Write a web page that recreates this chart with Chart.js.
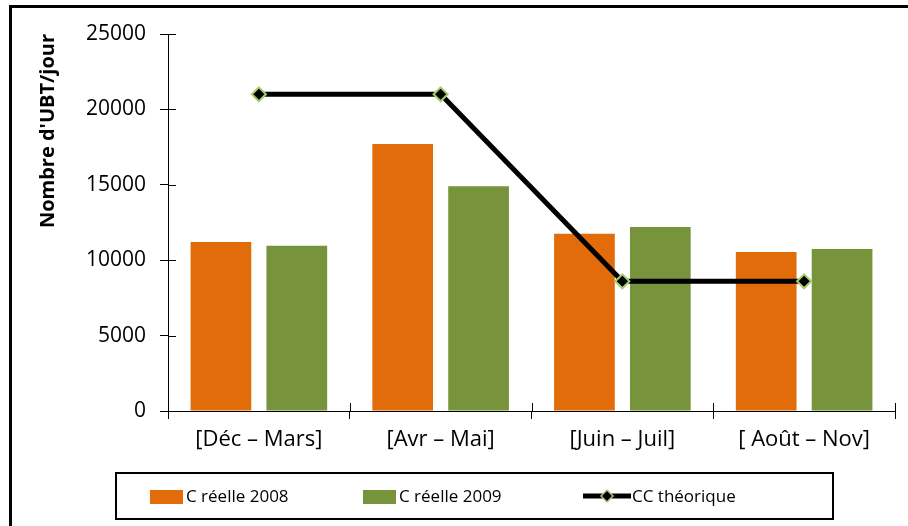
<!DOCTYPE html>
<html>
<head>
<meta charset="utf-8">
<script src="https://cdn.jsdelivr.net/npm/chart.js@4"></script>
<style>
  html, body { margin: 0; padding: 0; background: #fff; }
  #wrap { position: relative; width: 908px; height: 526px; overflow: hidden; font-family: "Open Sans", sans-serif; }
  #frame { position: absolute; left: 9px; top: 5px; width: 920px; height: 540px; border-left: 3px solid #000; border-top: 3px solid #000; }
  #legend { position: absolute; left: 115px; top: 472px; width: 715px; height: 44px; border: 2px solid #000; }
  .sw { position: absolute; top: 16px; width: 33px; height: 14px; }
  .lbl { position: absolute; top: 10px; font-size: 17px; line-height: 24px; color: #000; white-space: nowrap; }
  canvas { position: absolute; left: 0; top: 0; }
</style>
</head>
<body>
<div id="wrap">
  <canvas id="chart" width="908" height="526"></canvas>
  <div id="frame"></div>
  <div id="legend"></div>
</div>
<script>
const categories = ['[Déc – Mars]', '[Avr – Mai]', '[Juin – Juil]', '[ Août – Nov]'];
const reelle2008 = [11200, 17700, 11750, 10550];
const reelle2009 = [10950, 14900, 12200, 10750];
const ccTheorique = [21000, 21000, 8600, 8600];
const seriesNames = ['C réelle 2008', 'C réelle 2009', 'CC théorique'];
const yTicks = [0, 5000, 10000, 15000, 20000, 25000];

const ORANGE = '#e36c0a';
const GREEN = '#77933c';
const DIAMOND_EDGE = '#a8cc6c';

// Excel-style tick marks that cross the axis line
const crossTicks = {
  id: 'crossTicks',
  afterDraw(chart) {
    const { ctx, scales: { x, y }, chartArea } = chart;
    ctx.save();
    ctx.strokeStyle = '#000';
    ctx.lineWidth = 1;
    ctx.beginPath();
    yTicks.forEach(v => {
      const py = Math.round(y.getPixelForValue(v)) + 0.5;
      ctx.moveTo(chartArea.left, py);
      ctx.lineTo(chartArea.left + 8, py);
    });
    for (let i = 0; i <= categories.length; i++) {
      const px = Math.round(x.getPixelForValue(i - 0.5)) + 0.5;
      ctx.moveTo(px, chartArea.bottom - 8);
      ctx.lineTo(px, chartArea.bottom);
    }
    ctx.stroke();
    ctx.restore();
  }
};

new Chart(document.getElementById('chart'), {
  data: {
    labels: categories,
    datasets: [
      {
        type: 'line',
        label: seriesNames[2],
        data: ccTheorique,
        borderColor: '#000',
        borderWidth: 5,
        pointStyle: 'rectRot',
        pointRadius: 7,
        pointBackgroundColor: '#000',
        pointBorderColor: DIAMOND_EDGE,
        pointBorderWidth: 2,
        tension: 0,
        order: 0
      },
      {
        type: 'bar',
        label: seriesNames[0],
        data: reelle2008,
        backgroundColor: ORANGE,
        categoryPercentage: 0.835,
        barPercentage: 0.8,
        order: 1
      },
      {
        type: 'bar',
        label: seriesNames[1],
        data: reelle2009,
        backgroundColor: GREEN,
        categoryPercentage: 0.835,
        barPercentage: 0.8,
        order: 1
      }
    ]
  },
  options: {
    responsive: false,
    animation: false,
    layout: { padding: { top: 34, right: 13, left: 0, bottom: 0 } },
    plugins: { legend: { display: false }, tooltip: { enabled: false } },
    scales: {
      x: {
        afterFit: s => { s.height = 115; },
        grid: { drawOnChartArea: false, tickLength: 8, color: '#000', offset: true },
        border: { color: '#000', width: 1 },
        ticks: { color: '#000', padding: 8, font: { family: 'Open Sans', size: 22 } }
      },
      y: {
        min: 0,
        max: 25000,
        afterFit: s => { s.width = 168; },
        afterBuildTicks: s => { s.ticks = yTicks.map(v => ({ value: v })); },
        grid: { drawOnChartArea: false, tickLength: 8, color: '#000' },
        border: { color: '#000', width: 1 },
        ticks: { color: '#000', padding: 14, font: { family: 'Open Sans', size: 21 }, callback: v => String(v) },
        title: {
          display: true,
          text: "Nombre d'UBT/jour",
          align: 'end',
          color: '#000',
          padding: { top: 36, bottom: 0 },
          font: { family: 'Open Sans', size: 20, weight: 'bold' }
        }
      }
    }
  },
  plugins: [crossTicks]
});

// legend box, Excel style
const legend = document.getElementById('legend');
const items = [
  { sw: 33, text: seriesNames[0], color: ORANGE, kind: 'bar' },
  { sw: 246, text: seriesNames[1], color: GREEN, kind: 'bar' },
  { sw: 466, text: seriesNames[2], kind: 'line' }
];
items.forEach(it => {
  if (it.kind === 'bar') {
    const s = document.createElement('div');
    s.className = 'sw';
    s.style.left = it.sw + 'px';
    s.style.background = it.color;
    legend.appendChild(s);
    const t = document.createElement('span');
    t.className = 'lbl';
    t.style.left = (it.sw + 36) + 'px';
    t.textContent = it.text;
    legend.appendChild(t);
  } else {
    const ns = 'http://www.w3.org/2000/svg';
    const svg = document.createElementNS(ns, 'svg');
    svg.setAttribute('width', '48');
    svg.setAttribute('height', '20');
    svg.style.position = 'absolute';
    svg.style.left = it.sw + 'px';
    svg.style.top = '12px';
    svg.innerHTML = '<line x1="0" y1="10" x2="48" y2="10" stroke="#000" stroke-width="5"/>' +
      '<polygon points="24,4 30,10 24,16 18,10" fill="#000" stroke="' + DIAMOND_EDGE + '" stroke-width="1.5"/>';
    legend.appendChild(svg);
    const t = document.createElement('span');
    t.className = 'lbl';
    t.style.left = (it.sw + 49) + 'px';
    t.textContent = it.text;
    legend.appendChild(t);
  }
});
</script>
</body>
</html>
